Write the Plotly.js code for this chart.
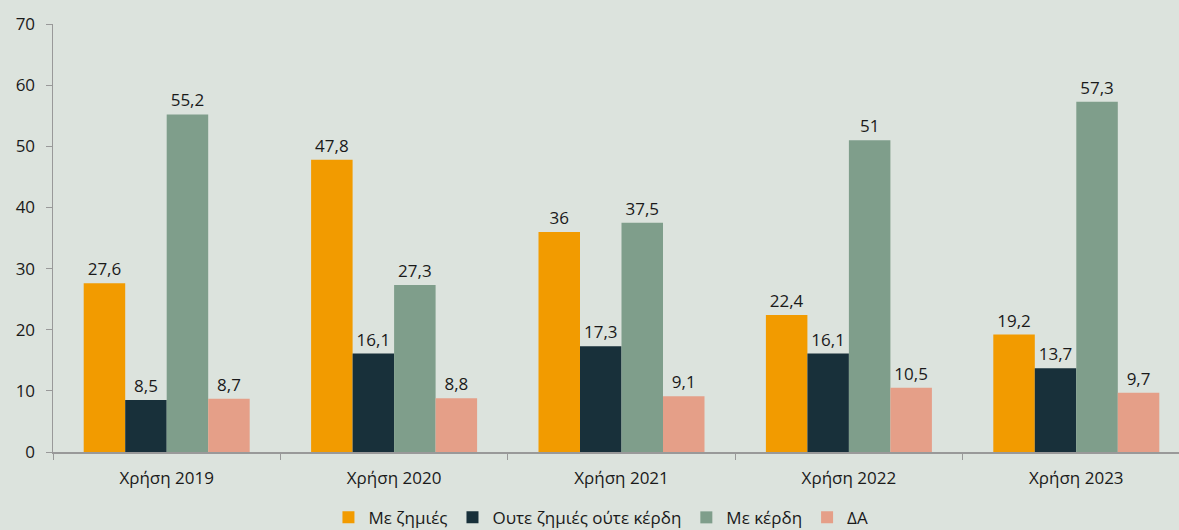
<!DOCTYPE html>
<html><head><meta charset="utf-8">
<script src="https://cdn.plot.ly/plotly-3.0.1.min.js"></script>
<style>html,body{margin:0;padding:0;background:#dce3dd;overflow:hidden;}</style>
</head><body>
<div id="chart" style="width:1190px;height:530px;"></div>
<script>
const categories = ["Χρήση 2019","Χρήση 2020","Χρήση 2021","Χρήση 2022","Χρήση 2023"];
const seriesNames = ["Με ζημιές","Ουτε ζημιές ούτε κέρδη","Με κέρδη","ΔΑ"];
const withLosses = [27.6, 47.8, 36, 22.4, 19.2];
const neither = [8.5, 16.1, 17.3, 16.1, 13.7];
const withProfits = [55.2, 27.3, 37.5, 51, 57.3];
const na = [8.7, 8.8, 9.1, 10.5, 9.7];
const colors = ["#f29b00","#18303a","#7f9e8b","#e59f88"];
const allSeries = [withLosses, neither, withProfits, na];
const fmt = v => String(v).replace('.', ',');
const font = "'Open Sans', sans-serif";
const tc = '#1a1a1a';
const traces = allSeries.map((vals,i)=>({
  type:'bar', x:categories, y:vals, name:seriesNames[i],
  marker:{color:colors[i]},
  text: vals.map(fmt), textposition:'outside', cliponaxis:false,
  textfont:{family:font, size:17, color:tc},
  hoverinfo:'skip'
}));
const layout = {
  width:1190, height:530,
  paper_bgcolor:'#dce3dd', plot_bgcolor:'#dce3dd',
  margin:{l:53, r:0, t:24, b:78, autoexpand:false},
  barmode:'group', bargap:0.27, bargroupgap:0,
  font:{family:font, size:17, color:tc},
  xaxis:{type:'category', showline:true, linecolor:'#999999', linewidth:1.5,
    ticks:'outside', tickson:'boundaries', ticklen:6, tickcolor:'#999999',
    ticklabelstandoff:10,
    showgrid:false, tickfont:{family:font,size:17,color:tc}},
  yaxis:{range:[0,70], dtick:10, showline:true, linecolor:'#999999', linewidth:1.5,
    ticks:'outside', ticklen:6, tickcolor:'#999999', showgrid:false, zeroline:false,
    ticklabelstandoff:7,
    tickfont:{family:font,size:17,color:tc}},
  legend:{orientation:'h', xref:'container', x:0.505, xanchor:'center',
    yref:'container', y:0.023, yanchor:'middle',
    font:{family:font,size:17,color:tc}, itemwidth:30, traceorder:'normal'},
  showlegend:true
};
Plotly.newPlot('chart', traces, layout, {displayModeBar:false, staticPlot:true});
</script>
</body></html>
